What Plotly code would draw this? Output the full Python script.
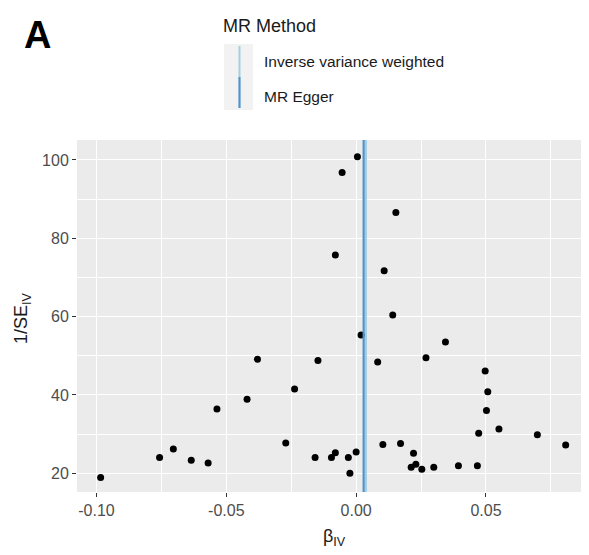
import plotly.graph_objects as go

# ---- data ----
beta_iv = [-0.0984, -0.0757, -0.0704, -0.0635, -0.0570, -0.0536, -0.0420, -0.0380,
           -0.0271, -0.0237, -0.0158, -0.0147, -0.0095, -0.0080, -0.0080, -0.0054,
           -0.0030, -0.0024, 0.0000, 0.0005, 0.0019, 0.0083, 0.0103, 0.0108,
           0.0141, 0.0153, 0.0171, 0.0212, 0.0221, 0.0230, 0.0253, 0.0269,
           0.0299, 0.0344, 0.0394, 0.0467, 0.0472, 0.0497, 0.0502, 0.0507,
           0.0550, 0.0698, 0.0807]
inv_se = [18.9, 24.0, 26.2, 23.3, 22.6, 36.4, 38.9, 49.1,
          27.7, 41.5, 24.0, 48.8, 24.0, 25.2, 75.7, 96.8,
          24.0, 20.0, 25.4, 100.8, 55.3, 48.4, 27.3, 71.7,
          60.4, 86.6, 27.6, 21.5, 25.1, 22.3, 21.0, 49.5,
          21.5, 53.5, 21.9, 21.9, 30.2, 46.1, 36.0, 40.8,
          31.3, 29.8, 27.2]
methods = ["Inverse variance weighted", "MR Egger"]
method_estimates = [0.0038, 0.0029]
x_tickvals = [-0.10, -0.05, 0.00, 0.05]
x_ticktext = ["-0.10", "-0.05", "0.00", "0.05"]
y_tickvals = [20, 40, 60, 80, 100]
y_ticktext = ["20", "40", "60", "80", "100"]

# ---- styles ----
OFF = 8                      # page body margin of the html page
WIN_W, WIN_H = 589, 555
W, H = WIN_W - OFF, WIN_H - OFF
# desired panel box in window pixels
P_LEFT, P_RIGHT, P_TOP, P_BOT = 77, 588, 140, 492
L = P_LEFT - OFF
T = P_TOP - OFF
R = W - (P_RIGHT - OFF)
B = H - (P_BOT - OFF)
PW, PH = W - L - R, H - T - B
method_colors = {"Inverse variance weighted": "#A6CEE3", "MR Egger": "#4F93CB"}
method_widths = {"Inverse variance weighted": 2, "MR Egger": 2.2}
FONT = "Liberation Sans, Arial, sans-serif"


def px(x):
    """window pixel x -> paper coordinate"""
    return (x - P_LEFT) / PW


def py(y):
    """window pixel y -> paper coordinate"""
    return (P_BOT - y) / PH


fig = go.Figure()
fig.add_trace(go.Scatter(x=beta_iv, y=inv_se, mode="markers",
                         marker=dict(color="black", size=7), showlegend=False,
                         hoverinfo="x+y"))

for m, est in zip(methods, method_estimates):
    fig.add_shape(type="line", xref="x", yref="paper", x0=est, x1=est, y0=0, y1=1,
                  line=dict(color=method_colors[m], width=method_widths[m]), layer="above")

# legend (drawn manually to mimic ggplot vertical keys)
key_x0, key_x1 = 224, 253
key_top, key_mid, key_bot = 44, 77, 110
fig.add_shape(type="rect", xref="paper", yref="paper", x0=px(key_x0), x1=px(key_x1),
              y0=py(key_bot), y1=py(key_top), fillcolor="#F2F2F2", line=dict(width=0), layer="below")
key_ranges = [(key_top + 2, key_mid), (key_mid, key_bot - 2)]
label_y = [62, 96]
for m, (a, b), ly in zip(methods, key_ranges, label_y):
    fig.add_shape(type="line", xref="paper", yref="paper", x0=px(239.5), x1=px(239.5),
                  y0=py(b), y1=py(a), line=dict(color=method_colors[m], width=method_widths[m]))
    fig.add_annotation(text=m, xref="paper", yref="paper", x=px(262), y=py(ly),
                       xanchor="left", yanchor="middle", showarrow=False,
                       font=dict(family=FONT, size=15.5, color="#1A1A1A"))
fig.add_annotation(text="MR Method", xref="paper", yref="paper", x=px(221), y=py(26),
                   xanchor="left", yanchor="middle", showarrow=False,
                   font=dict(family=FONT, size=18, color="#1A1A1A"))

# panel tag
fig.add_annotation(text="<b>A</b>", xref="paper", yref="paper", x=px(37), y=py(35),
                   xanchor="center", yanchor="middle", showarrow=False,
                   font=dict(family=FONT, size=38, color="black"))

# axis titles
fig.add_annotation(text="β<sub>IV</sub>", xref="paper", yref="paper", x=px(334), y=0,
                   yshift=-45, xanchor="center", yanchor="middle", showarrow=False,
                   font=dict(family=FONT, size=18, color="#1A1A1A"))
fig.add_annotation(text="1/SE<sub>IV</sub>", xref="paper", yref="paper", x=0,
                   xshift=22 - P_LEFT, y=py(318), xanchor="center", yanchor="middle",
                   textangle=-90, showarrow=False,
                   font=dict(family=FONT, size=18, color="#1A1A1A"))

axis_common = dict(showgrid=True, gridcolor="white", gridwidth=1.4, zeroline=False,
                   ticks="outside", ticklen=4, tickwidth=1.1, tickcolor="#333333",
                   tickfont=dict(family=FONT, size=16, color="#4D4D4D"),
                   showline=False, tickmode="array")
fig.update_xaxes(range=[-0.1075, 0.0893], tickvals=x_tickvals, ticktext=x_ticktext,
                 minor=dict(dtick=0.025, tick0=0, showgrid=True, gridcolor="white",
                            gridwidth=0.7, ticks=""),
                 **axis_common)
fig.update_yaxes(range=[15.2, 105.1], tickvals=y_tickvals, ticktext=y_ticktext,
                 minor=dict(dtick=10, tick0=0, showgrid=True, gridcolor="white",
                            gridwidth=0.7, ticks=""),
                 **axis_common)

fig.update_layout(width=W, height=H, margin=dict(l=L, r=R, t=T, b=B, autoexpand=False),
                  plot_bgcolor="#EBEBEB", paper_bgcolor="white", showlegend=False,
                  font=dict(family=FONT))

fig.write_html("out.html")
